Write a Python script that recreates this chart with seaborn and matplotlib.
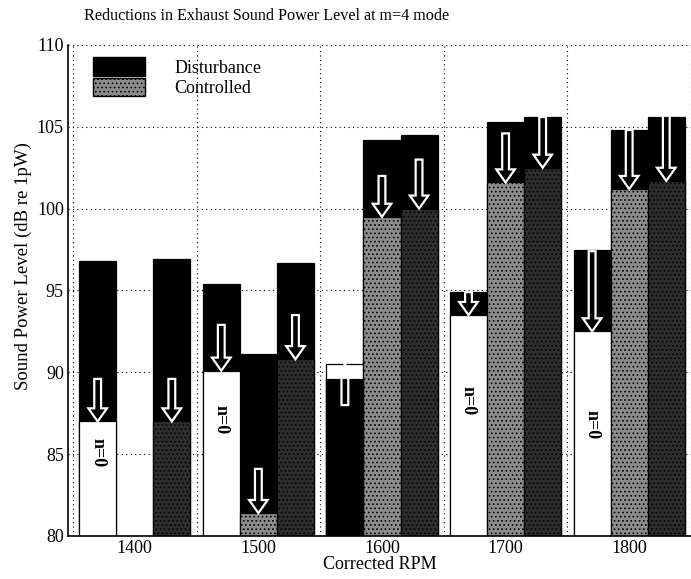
import numpy as np
import pandas as pd
import matplotlib
matplotlib.use("Agg")
import matplotlib.pyplot as plt
import seaborn as sns
from matplotlib.patches import Patch, FancyArrow

# ---------------- data ----------------
rpm_labels = ["1400", "1500", "1600", "1700", "1800"]
modes = ["n=0", "n=1", "n=2"]

disturbance_n0 = [96.8, 95.4, 89.6, 94.9, 97.5]
disturbance_n1 = [np.nan, 91.1, 104.2, 105.3, 104.8]
disturbance_n2 = [96.9, 96.7, 104.5, 105.6, 105.6]

controlled_n0 = [87.0, 90.1, 90.5, 93.5, 92.5]
controlled_n1 = [np.nan, 81.4, 99.5, 101.6, 101.2]
controlled_n2 = [87.0, 90.8, 100.0, 102.5, 101.7]

# where each reduction arrow starts (its tip is the controlled level)
arrow_start_n0 = [89.6, 92.9, 88.0, 94.9, 97.4]
arrow_start_n1 = [np.nan, 84.1, 102.0, 104.6, 104.8]
arrow_start_n2 = [89.6, 93.5, 103.0, 105.6, 105.7]

# height of the "n=0" labels inside the white bars
label_y_n0 = [85.1, 87.1, np.nan, 88.3, 86.8]

# ---------------- table ----------------
rows = []
dist = [disturbance_n0, disturbance_n1, disturbance_n2]
ctrl = [controlled_n0, controlled_n1, controlled_n2]
for j, m in enumerate(modes):
    for i, r in enumerate(rpm_labels):
        rows.append({"rpm": r, "mode": m, "disturbance": dist[j][i],
                     "controlled": ctrl[j][i]})
df = pd.DataFrame(rows)
df["dist_over"] = df["disturbance"].where(df["disturbance"] < df["controlled"])

# ---------------- style ----------------
sns.set_style("white")
plt.rcParams["font.family"] = ["Liberation Serif", "DejaVu Serif"]
plt.rcParams["text.color"] = "black"
plt.rcParams["axes.labelcolor"] = "black"
plt.rcParams["xtick.color"] = "black"
plt.rcParams["ytick.color"] = "black"
plt.rcParams["hatch.color"] = "#d8d8d8"
plt.rcParams["hatch.linewidth"] = 0.7

fig = plt.figure(figsize=(6.91, 5.79), dpi=100)
ax = fig.add_axes([68 / 691, 43 / 579, 623 / 691, 491 / 579])

black_pal = {m: "black" for m in modes}
ctrl_pal = {"n=0": "white", "n=1": "#8c8c8c", "n=2": "#2e2e2e"}
BW = 0.9

common = dict(x="rpm", hue="mode", order=rpm_labels, hue_order=modes,
              width=BW, dodge=True, legend=False, edgecolor="black",
              linewidth=0.9, ax=ax, errorbar=None)

# layer 1: disturbance
sns.barplot(data=df, y="disturbance", palette=black_pal, **common)
n_before = len(ax.patches)
# layer 2: controlled
sns.barplot(data=df, y="controlled", palette=ctrl_pal, **common)
for p in ax.patches[n_before:]:
    fc = p.get_facecolor()
    if fc[0] < 0.9:
        p.set_hatch("....")
# layer 3: disturbance where it is below the controlled level
sns.barplot(data=df, y="dist_over", palette=black_pal, **common)

# ---------------- arrows & labels ----------------
starts = [arrow_start_n0, arrow_start_n1, arrow_start_n2]
bar_w = BW / len(modes)
for j in range(len(modes)):
    for i in range(len(rpm_labels)):
        y0 = starts[j][i]
        y1 = ctrl[j][i]
        if np.isnan(y0) or np.isnan(y1):
            continue
        x = i + (j - 1) * bar_w
        arr = FancyArrow(x, y0, 0, y1 - y0, width=0.055, head_width=0.15,
                         head_length=0.8, length_includes_head=True,
                         fc="none", ec="white", lw=1.6, zorder=5)
        ax.add_patch(arr)

for i, ly in enumerate(label_y_n0):
    if np.isnan(ly):
        continue
    x = i - bar_w
    ax.text(x, ly, "n=0", rotation=270, ha="center", va="center",
            fontsize=13, fontweight="bold", color="black", zorder=6)

# ---------------- axes ----------------
ax.set_ylim(80, 110)
ax.set_xlim(-0.54, 4.43)
ax.set_yticks(np.arange(80, 111, 5))
ax.set_xticks(range(len(rpm_labels)))
ax.set_xticklabels(rpm_labels)
ax.set_xticks(np.arange(-0.5, 4.51, 0.5), minor=True)
ax.tick_params(axis="both", which="major", direction="in", length=4,
               labelsize=13, pad=3, colors="black")
ax.tick_params(axis="x", which="minor", length=0)
ax.grid(True, axis="y", which="major", color="black", linestyle=(0, (1, 3)),
        linewidth=0.8)
ax.grid(True, axis="x", which="minor", color="black", linestyle=(0, (1, 3)),
        linewidth=0.8)
ax.set_axisbelow(True)
for s in ["top", "right"]:
    ax.spines[s].set_visible(False)
for s in ["left", "bottom"]:
    ax.spines[s].set_color("black")
    ax.spines[s].set_linewidth(1.2)

ax.set_xlabel("Corrected RPM", fontsize=13, labelpad=-1)
ax.set_ylabel("Sound Power Level (dB re 1pW)", fontsize=13.5, labelpad=4)
ax.yaxis.set_label_coords(-0.058, 0.55)
ax.set_title("Reductions in Exhaust Sound Power Level at m=4 mode",
             fontsize=11.6, pad=18, x=0.318)

handles = [Patch(facecolor="black", edgecolor="black"),
           Patch(facecolor="#8c8c8c", edgecolor="black", hatch="....")]
ax.legend(handles, ["Disturbance", "Controlled"], loc="upper left",
          bbox_to_anchor=(0.04, 0.975), frameon=False, fontsize=13,
          handlelength=2.9, handleheight=1.2, labelspacing=0.05,
          handletextpad=1.6, borderaxespad=0, borderpad=0)

fig.savefig("out.png", dpi=100)
